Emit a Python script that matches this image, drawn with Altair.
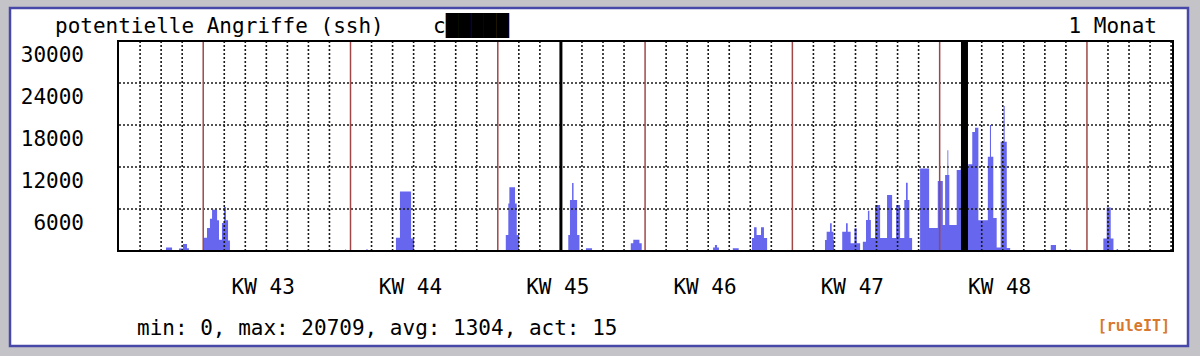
import altair as alt
import pandas as pd

# ---- data (x in days from the left edge of the plot, y = attacks) ----
# step series: value holds from this day until the next breakpoint
bar_day = [
    2.23, 2.52,
    2.85, 3.04, 3.23, 3.32,
    3.99, 4.18, 4.32, 4.42, 4.66, 4.75, 4.89, 4.99, 5.08, 5.18, 5.27,
    10.74, 10.79, 11.74, 11.83,
    13.16, 13.35, 13.88, 14.02,
    18.38, 18.50, 18.55, 18.82, 18.90, 19.01,
    21.35, 21.43, 21.53, 21.60, 21.77, 21.88,
    22.19, 22.48,
    24.32, 24.44, 24.73, 24.84,
    28.23, 28.32, 28.42, 28.51,
    29.17, 29.45,
    30.08, 30.18, 30.30, 30.51, 30.65, 30.80,
    33.55, 33.63, 33.79, 33.87, 33.95, 33.98,
    34.37, 34.55, 34.63, 34.77, 34.95, 35.06, 35.22,
    35.35, 35.50, 35.59, 35.66, 35.73, 35.93, 36.17, 36.50, 36.74, 36.93,
    37.12, 37.32, 37.40, 37.48, 37.56, 37.69,
    38.07, 38.50, 38.91, 39.15, 39.26, 39.37, 39.41, 39.46, 39.81, 40.00,
    40.36, 40.55, 40.68, 40.84, 41.29, 41.39, 41.44, 41.55, 41.71, 41.90,
    42.04, 42.09, 42.19, 42.35,
    44.28, 44.53,
    45.17, 45.24,
    46.78, 46.94, 47.13, 47.26,
    47.41, 47.48,
]
bar_val = [
    500, 0,
    350, 1000, 400, 0,
    1900, 3300, 4600, 5900, 4400, 1600, 4000, 6300, 4400, 1500, 0,
    200, 0, 200, 0,
    1900, 8500, 1800, 0,
    2300, 6800, 9100, 6800, 2300, 0,
    2300, 7300, 9700, 7300, 2300, 0,
    400, 0,
    1100, 1600, 1100, 0,
    500, 850, 500, 0,
    380, 0,
    1850, 3400, 2300, 3400, 1850, 0,
    1570, 2760, 3950, 2760, 1570, 0,
    2760, 3950, 2760, 1100, 3240, 1100, 0,
    1330, 4430, 5760, 4430, 1850, 6570, 1850, 8000, 1850, 6570,
    1850, 7290, 9760, 7290, 1850, 0,
    11800, 3300, 10000, 3700, 10850, 14400, 10850, 3700, 11570, 12000,
    12380, 17000, 17600, 4400, 13470, 18000, 13470, 4700, 500, 15600,
    20709, 15600, 430, 0,
    860, 0,
    240, 0,
    1800, 6200, 1800, 0,
    300, 0,
]
red_days = [4, 11, 18, 25, 32, 39, 46]          # week boundaries
month_days = [21]                               # month boundary
now_days = [40.18]                              # thick marker
grid_days = [d for d in range(1, 51) if d not in red_days + month_days + [40]]
grid_vals = [6000, 12000, 18000, 24000]
y_ticks = [6000, 12000, 18000, 24000, 30000]
kw_days = [6.85, 13.85, 20.85, 27.85, 34.85, 41.85]
kw_labels = ["KW 43", "KW 44", "KW 45", "KW 46", "KW 47", "KW 48"]
title_text = "potentielle Angriffe (ssh)"
host_text = "c\u2588\u2588\u2588\u2588\u2588"
range_text = "1 Monat"
stat_min, stat_max, stat_avg, stat_act = 0, 20709, 1304, 15
brand_text = "[ruleIT]"

FONT = "DejaVu Sans Mono"
FS = 21
W, H = 1055, 210
xs = alt.Scale(domain=[-0.05, 50.09], nice=False, zero=False)
ys = alt.Scale(domain=[0, 30000], nice=False, zero=True)

one = pd.DataFrame({"k": [0]})

frame = alt.Chart(one).mark_rect(fill="white", stroke="#4848a8", strokeWidth=2.5).encode(
    x=alt.value(-108), x2=alt.value(1070), y=alt.value(-33), y2=alt.value(305)
)

bars = alt.Chart(pd.DataFrame({"day": bar_day, "val": bar_val})).mark_area(
    interpolate="step-after", color="#6666ee", opacity=1
).encode(
    x=alt.X("day:Q", scale=xs, axis=None),
    y=alt.Y("val:Q", scale=ys, axis=None),
)

vgrid = alt.Chart(pd.DataFrame({"day": grid_days})).mark_rule(
    color="#1a1a1a", strokeWidth=1.6, strokeDash=[2, 2]
).encode(x=alt.X("day:Q", scale=xs, axis=None))

hgrid = alt.Chart(pd.DataFrame({"val": grid_vals})).mark_rule(
    color="#1a1a1a", strokeWidth=1.6, strokeDash=[2, 2]
).encode(y=alt.Y("val:Q", scale=ys, axis=None))

red = alt.Chart(pd.DataFrame({"day": red_days})).mark_rule(
    color="#a04848", strokeWidth=1.5
).encode(x=alt.X("day:Q", scale=xs, axis=None))

month = alt.Chart(pd.DataFrame({"day": month_days})).mark_rule(
    color="black", strokeWidth=3
).encode(x=alt.X("day:Q", scale=xs, axis=None))

now = alt.Chart(pd.DataFrame({"day": now_days})).mark_rule(
    color="black", strokeWidth=7
).encode(x=alt.X("day:Q", scale=xs, axis=None))

border = alt.Chart(one).mark_rect(filled=False, stroke="black", strokeWidth=2).encode(
    x=alt.value(0), x2=alt.value(W), y=alt.value(0), y2=alt.value(H)
)

ylab = alt.Chart(pd.DataFrame({"val": y_ticks})).mark_text(
    font=FONT, fontSize=FS, color="black", baseline="alphabetic", align="right", dy=21
).encode(
    y=alt.Y("val:Q", scale=ys, axis=None), x=alt.value(-34), text=alt.Text("val:Q", format="d")
)

kw = alt.Chart(pd.DataFrame({"day": kw_days, "lab": kw_labels})).mark_text(
    font=FONT, fontSize=FS, color="black", baseline="alphabetic", align="center"
).encode(x=alt.X("day:Q", scale=xs, axis=None), y=alt.value(253), text="lab:N")

def label(txt, x, y, align="left", size=FS, color="black", weight="normal"):
    return alt.Chart(pd.DataFrame({"t": [txt]})).mark_text(
        font=FONT, fontSize=size, color=color, align=align,
        baseline="alphabetic", fontWeight=weight
    ).encode(text="t:N", x=alt.value(x), y=alt.value(y))

stats_text = f"min: {stat_min}, max: {stat_max}, avg: {stat_avg}, act: {stat_act}"

chart = alt.layer(
    frame, bars, vgrid, hgrid, red, month, now, border, ylab, kw,
    label(title_text, -63, -8),
    label(host_text, 315, -8),
    label(range_text, 1039, -8, align="right"),
    label(stats_text, 19, 294),
    label(brand_text, 1052, 290, align="right", size=15, color="#d8782c", weight="bold"),
).properties(
    width=W, height=H,
    autosize=alt.AutoSizeParams(type="none"),
    padding={"left": 118, "top": 41, "right": 27, "bottom": 105},
    background="#c4c4c8",
).configure_view(stroke=None)

chart.save("out.html", embed_options={"renderer": "svg", "actions": False})
